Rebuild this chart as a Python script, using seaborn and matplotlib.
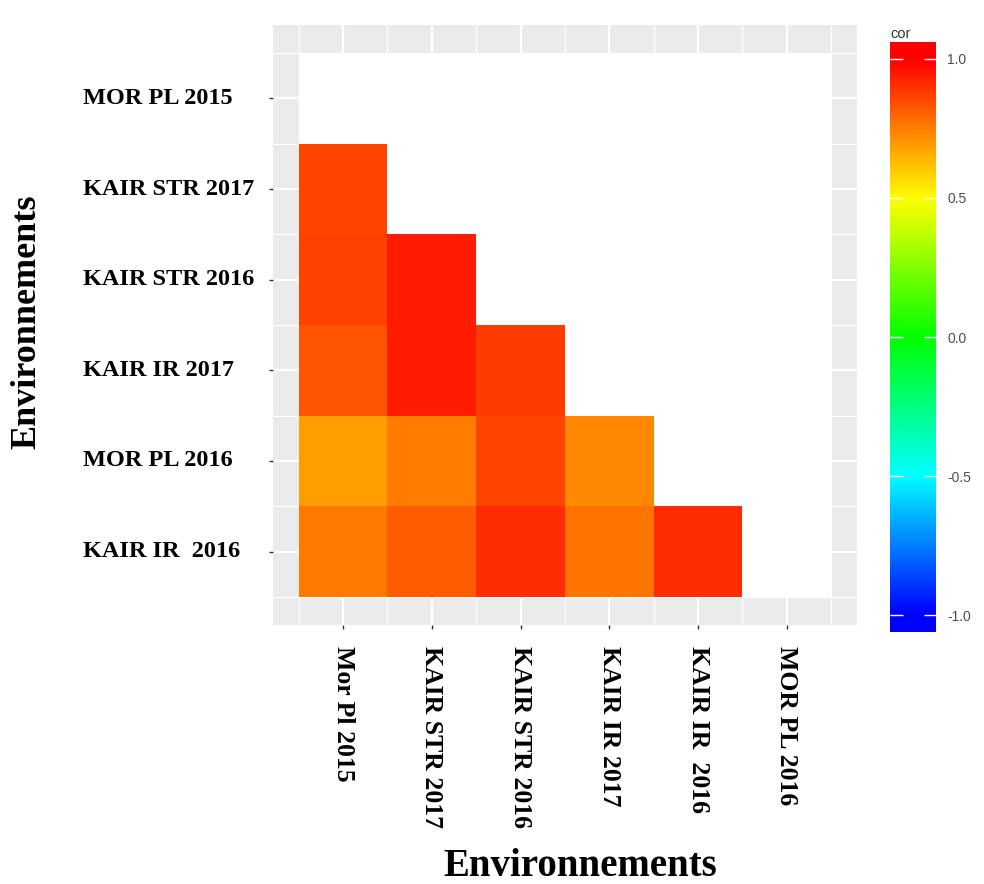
import numpy as np
import pandas as pd
import matplotlib
matplotlib.use("Agg")
import matplotlib.pyplot as plt
from matplotlib.colors import LinearSegmentedColormap, ListedColormap, Normalize
import seaborn as sns

# Environments on each axis (top-to-bottom rows, left-to-right columns)
row_labels = ["MOR PL 2015", "KAIR STR 2017", "KAIR STR 2016",
              "KAIR IR 2017", "MOR PL 2016", "KAIR IR  2016"]
col_labels = ["Mor Pl 2015", "KAIR STR 2017", "KAIR STR 2016",
              "KAIR IR 2017", "KAIR IR  2016", "MOR PL 2016"]

# Lower-triangle correlations, one list per row (row 1 is empty)
cor_mor_pl_2015 = []
cor_kair_str_2017 = [0.86]
cor_kair_str_2016 = [0.87, 0.94]
cor_kair_ir_2017 = [0.83, 0.94, 0.88]
cor_mor_pl_2016 = [0.69, 0.75, 0.86, 0.73]
cor_kair_ir_2016 = [0.76, 0.82, 0.91, 0.77, 0.91]

cbar_ticks = [-1.0, -0.5, 0.0, 0.5, 1.0]

rows = [cor_mor_pl_2015, cor_kair_str_2017, cor_kair_str_2016,
        cor_kair_ir_2017, cor_mor_pl_2016, cor_kair_ir_2016]
mat = np.full((len(row_labels), len(col_labels)), np.nan)
for i, r in enumerate(rows):
    mat[i, :len(r)] = r
cor = pd.DataFrame(mat, index=row_labels, columns=col_labels)
blank = pd.DataFrame(np.where(np.isnan(mat), 0.0, np.nan),
                     index=row_labels, columns=col_labels)

cmap = LinearSegmentedColormap.from_list(
    "cor", ["#0000FF", "#00FFFF", "#00FF00", "#FFFF00", "#FF0000"])
norm = Normalize(-1, 1)

serif = "Liberation Serif"
sans = "Liberation Sans"

fig = plt.figure(figsize=(9.84, 8.84), dpi=100, facecolor="white")
ax = fig.add_axes([0.2774, 0.2930, 0.5935, 0.6787])
ax.set_facecolor("#EBEBEB")

# Missing (upper) cells shown in white, then the correlation tiles
sns.heatmap(blank, ax=ax, cmap=ListedColormap(["white"]), cbar=False,
            xticklabels=col_labels, yticklabels=row_labels)
sns.heatmap(cor, ax=ax, cmap=cmap, vmin=-1, vmax=1, cbar=False,
            xticklabels=col_labels, yticklabels=row_labels)

n = len(col_labels)
ax.set_xlim(-0.29, n + 0.29)
ax.set_ylim(n + 0.31, -0.31)

# Panel grid behind the tiles
ax.set_axisbelow(True)
ax.set_xticks(np.arange(0, n + 1), minor=True)
ax.set_yticks(np.arange(0, n + 1), minor=True)
ax.grid(which="major", color="white", lw=1.6)
ax.grid(which="minor", color="white", lw=0.9)
ax.tick_params(which="minor", length=0)
for s in ax.spines.values():
    s.set_visible(False)

ax.tick_params(axis="y", which="major", length=3, width=1, color="#333333",
               pad=134)
ax.tick_params(axis="x", which="major", length=3, width=1, color="#333333",
               pad=12)
for lab in ax.get_yticklabels():
    lab.set_fontfamily(serif)
    lab.set_fontweight("bold")
    lab.set_fontsize(17.5)
    lab.set_rotation(0)
    lab.set_ha("left")
    lab.set_color("black")
for lab in ax.get_xticklabels():
    lab.set_fontfamily(serif)
    lab.set_fontweight("bold")
    lab.set_fontsize(18.5)
    lab.set_rotation(270)
    lab.set_ha("center")
    lab.set_va("top")
    lab.set_color("black")

ax.set_xlabel("Environnements", fontfamily=serif, fontweight="bold",
              fontsize=28, va="center")
ax.set_ylabel("Environnements", fontfamily=serif, fontweight="bold",
              fontsize=26, va="center")
ax.xaxis.set_label_coords(0.526, -0.402)
ax.yaxis.set_label_coords(-0.421, 0.505)

# Colour bar legend
cax = fig.add_axes([0.9045, 0.285, 0.0467, 0.6674])
lo, hi = -1.06, 1.06
grad = np.linspace(lo, hi, 400).reshape(-1, 1)
cax.imshow(grad, cmap=cmap, norm=norm, aspect="auto", origin="lower",
           extent=(0, 1, lo, hi))
cax.set_xlim(0, 1)
cax.set_ylim(lo, hi)
cax.set_xticks([])
cax.set_yticks(cbar_ticks)
cax.set_yticklabels([f"{t:.1f}" for t in cbar_ticks])
cax.yaxis.tick_right()
cax.tick_params(axis="y", direction="in", color="white", length=9, width=1,
                left=True, right=True, labelleft=False, labelright=True,
                pad=8, labelsize=10, labelcolor="#4D4D4D")
for lab in cax.get_yticklabels():
    lab.set_fontfamily(sans)
for s in cax.spines.values():
    s.set_visible(False)
cax.set_title("cor", loc="left", fontfamily=sans, fontsize=10.5,
              color="#333333", pad=3)

fig.savefig("out.png", dpi=100, facecolor="white")
